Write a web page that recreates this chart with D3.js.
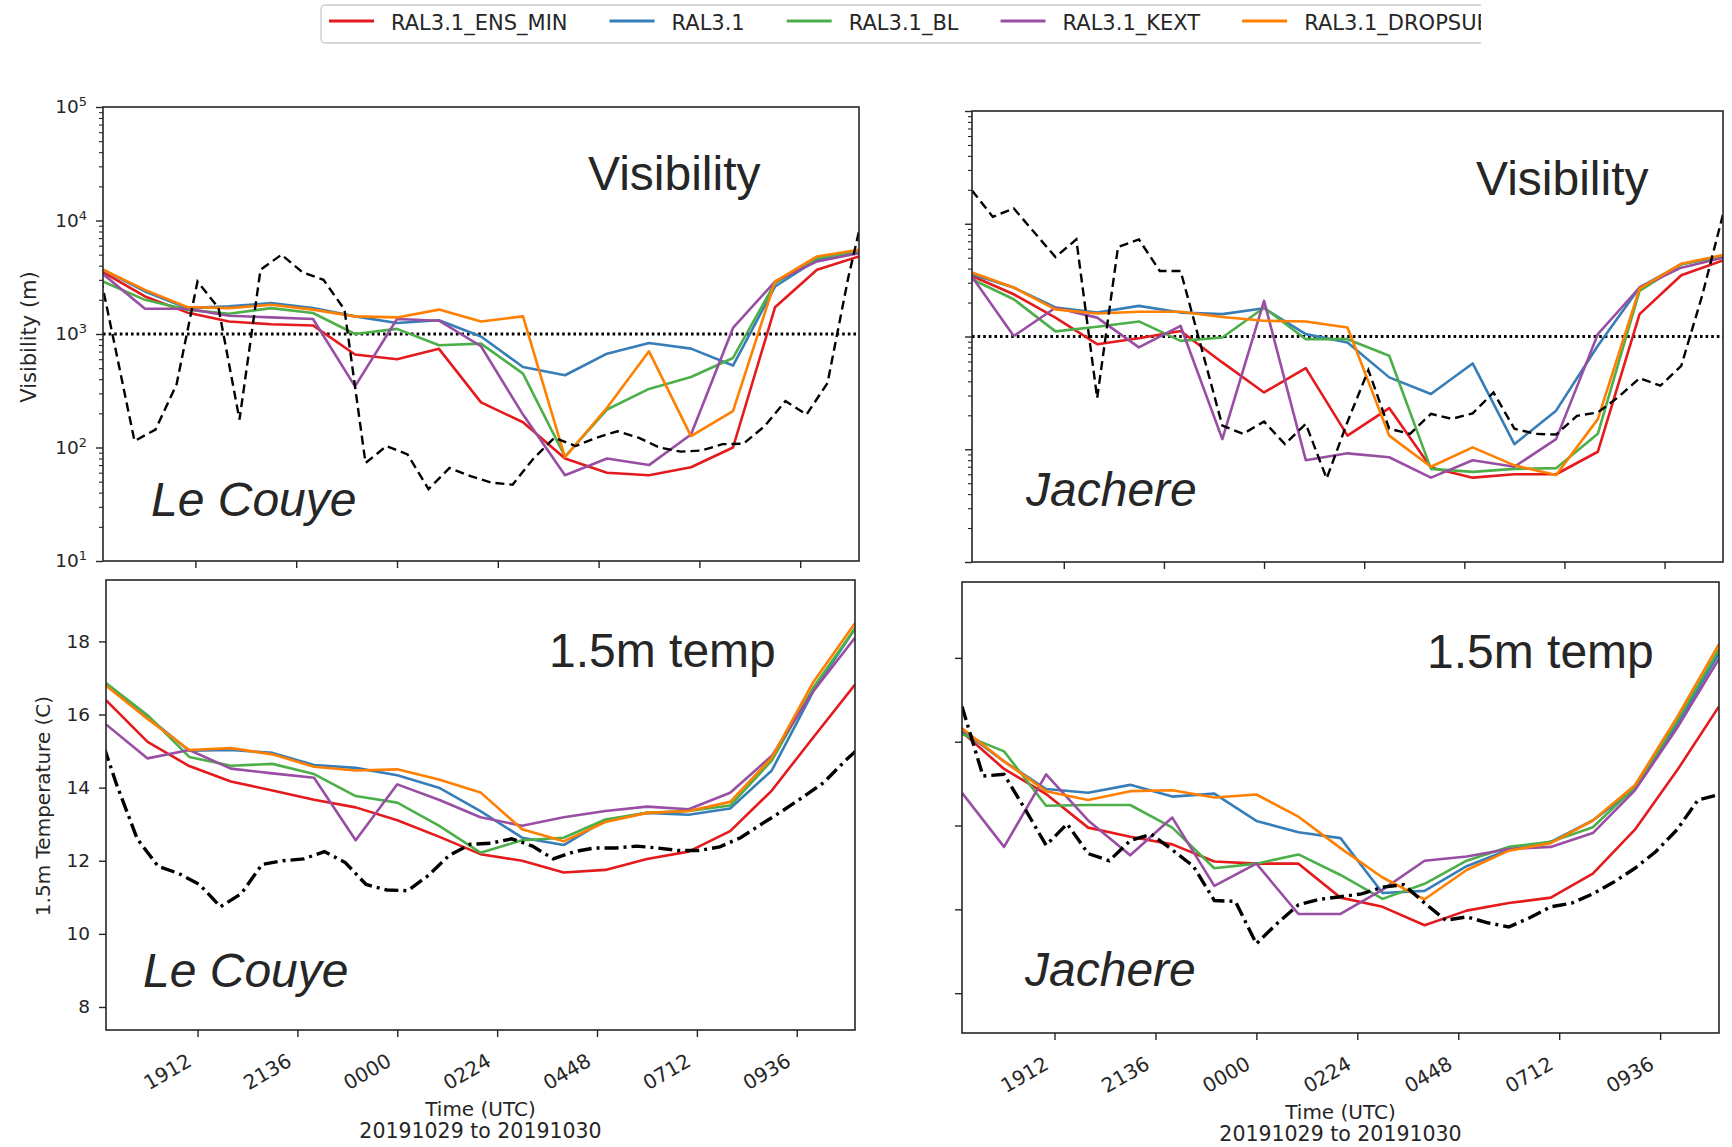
<!DOCTYPE html>
<html>
<head>
<meta charset="utf-8">
<script src="https://cdn.jsdelivr.net/npm/d3@7"></script>
<style>
  body { margin: 0; background: #fff; }
  svg { display: block; }
</style>
</head>
<body>
<svg id="chart" width="1732" height="1147"></svg>
<script>
// ---------- series and categories ----------
const seriesNames  = ["RAL3.1_ENS_MIN", "RAL3.1", "RAL3.1_BL", "RAL3.1_KEXT", "RAL3.1_DROPSUB"];
const seriesColors = ["#e41a1c", "#377eb8", "#4daf4a", "#984ea3", "#ff7f00"];

// hourly model output times (UTC), 29 Oct 17:00 to 30 Oct 11:00
const modelTimes = ["1700","1800","1900","2000","2100","2200","2300","0000","0100","0200",
                    "0300","0400","0500","0600","0700","0800","0900","1000","1100"];

// half-hourly observation times
const obsTimesLeCouye = ["1645","1715","1745","1815","1845","1915","1945","2015","2045","2115",
                         "2145","2215","2245","2315","2345","0015","0045","0115","0145","0215",
                         "0245","0315","0345","0415","0445","0515","0545","0615","0645","0715",
                         "0745","0815","0845","0915","0945","1015","1045","1115"];
const obsTimesJachere = ["1700","1730","1800","1830","1900","1930","2000","2030","2100","2130",
                         "2200","2230","2300","2330","0000","0030","0100","0130","0200","0230",
                         "0300","0330","0400","0430","0500","0530","0600","0630","0700","0730",
                         "0800","0830","0900","0930","1000","1030","1100"];

const xTickLabels = ["1912","2136","0000","0224","0448","0712","0936"];
const visTicks = [10, 100, 1000, 10000, 100000];
const tempTicksLeCouye = [8, 10, 12, 14, 16, 18];
const tempTicksJachere = [10, 12, 14, 16, 18];
const fogThreshold = 1000;

// ---------- visibility (m), Le Couye ----------
const visLeCouyeEnsMin = [3500,2140,1550,1290,1220,1190,660,600,740,250,167,80,60,57,67,100,1720,3680,4820];
const visLeCouyeRal    = [3680,2370,1690,1750,1870,1690,1430,1250,1320,950,512,433,671,833,743,527,2620,4510,5340];
const visLeCouyeBl     = [2900,2000,1640,1510,1690,1530,1000,1110,795,822,448,83,216,328,418,615,2810,4660,5340];
const visLeCouyeKext   = [3370,1670,1670,1450,1400,1355,346,1355,1310,780,195,57,80,70,130,1130,2900,4360,5160];
const visLeCouyeDrop   = [3680,2450,1730,1690,1810,1640,1430,1400,1640,1290,1430,82,224,704,126,209,2900,4820,5530];
const visLeCouyeObs    = [7000,900,114,144,358,2900,1700,176,3680,5000,3500,3000,1640,73,103,87,43,66,56,49,
                          47,80,122,103,122,139,122,100,92,94,107,108,154,257,195,370,3210,20000];

// ---------- visibility (m), Jachere ----------
const visJachereEnsMin = [3440,2370,1470,855,966,1120,589,319,524,132,232,69,56,60,60,95,1580,3490,4730];
const visJachereRal    = [3560,2720,1810,1630,1870,1630,1580,1780,1050,885,434,309,577,111,220,827,2720,4370,5180];
const visJachereBl     = [3220,2140,1110,1220,1360,915,980,1800,947,947,675,67,63,67,68,137,2540,4370,5180];
const visJachereKext   = [3380,1010,1800,1470,800,1240,123,2070,80,92,85,56,80,70,123,1050,2720,4080,5000];
const visJachereDrop   = [3690,2720,1740,1600,1660,1660,1490,1380,1360,1200,132,70,104,72,59,185,2660,4420,5280];
const visJachereObs    = [19700,11500,13700,8320,5070,7260,284,6220,7260,3810,3810,790,162,137,176,111,168,55,175,504,
                          152,137,206,186,208,319,152,137,135,198,212,292,428,366,550,2300,12100];

// ---------- 1.5 m temperature (C), Le Couye ----------
const tempLeCouyeEnsMin = [16.39,15.25,14.59,14.17,13.92,13.67,13.46,13.11,12.66,12.18,12.00,11.68,11.75,12.05,12.25,12.81,13.92,15.38,16.82];
const tempLeCouyeRal    = [16.82,15.93,15.01,15.03,14.95,14.62,14.54,14.34,14.00,13.36,12.63,12.43,13.11,13.31,13.26,13.43,14.47,16.64,18.35];
const tempLeCouyeBl     = [16.86,15.98,14.84,14.60,14.65,14.37,13.77,13.59,12.96,12.22,12.56,12.63,13.13,13.31,13.36,13.51,14.74,16.74,18.35];
const tempLeCouyeKext   = [15.73,14.80,15.03,14.52,14.39,14.27,12.56,14.09,13.67,13.19,12.96,13.19,13.36,13.48,13.41,13.86,14.87,16.64,18.10];
const tempLeCouyeDrop   = [16.79,15.88,15.03,15.08,14.91,14.57,14.47,14.50,14.22,13.87,12.86,12.53,13.06,13.31,13.36,13.61,14.82,16.89,18.50];
const tempLeCouyeObs    = [15.8,14.1,12.6,11.85,11.65,11.35,10.74,11.1,11.9,12.0,12.05,12.25,11.95,11.35,11.2,11.18,11.6,12.15,12.45,12.48,
                           12.6,12.4,12.05,12.25,12.35,12.35,12.4,12.35,12.28,12.28,12.38,12.63,13.0,13.36,13.74,14.14,14.72,15.24];

// ---------- 1.5 m temperature (C), Jachere ----------
const tempJachereEnsMin = [16.23,15.35,14.75,13.95,13.73,13.55,13.14,13.09,13.09,12.28,12.06,11.62,11.97,12.15,12.28,12.85,13.90,15.31,16.84];
const tempJachereRal    = [16.27,15.53,14.87,14.78,14.97,14.69,14.76,14.11,13.84,13.70,12.39,12.44,13.03,13.42,13.61,14.12,14.87,16.40,18.11];
const tempJachereBl     = [16.18,15.77,14.47,14.49,14.49,13.95,12.98,13.09,13.31,12.82,12.25,12.61,13.16,13.49,13.61,13.96,14.91,16.49,18.20];
const tempJachereKext   = [14.78,13.49,15.22,14.12,13.29,14.19,12.56,13.09,11.89,11.89,12.47,13.16,13.26,13.44,13.49,13.82,14.84,16.32,17.98];
const tempJachereDrop   = [16.32,15.53,14.82,14.61,14.82,14.84,14.67,14.74,14.21,13.46,12.76,12.24,12.94,13.40,13.58,14.12,14.96,16.58,18.33];
const tempJachereObs    = [16.84,15.18,15.22,14.39,13.53,14.04,13.33,13.16,13.64,13.79,13.42,13.03,12.21,12.19,11.18,11.67,12.11,12.24,12.30,12.37,
                           12.53,12.59,12.15,11.74,11.82,11.68,11.58,11.80,12.06,12.15,12.37,12.65,12.98,13.38,13.90,14.61,14.74];

// ---------- helpers ----------
const INK = "#262626";
const parseT = s => {
  const h = +s.slice(0, 2), m = +s.slice(2);
  return new Date(Date.UTC(2019, 9, h >= 12 ? 29 : 30, h, m));
};
const modelDates = modelTimes.map(parseT);
const xTickDates = xTickLabels.map(parseT);
const timeDomain = [modelDates[0], modelDates[modelDates.length - 1]];

const svg = d3.select("#chart");
const defs = svg.append("defs");

function drawPanel(p) {
  const x = d3.scaleUtc().domain(timeDomain).range([p.l, p.r]);
  const y = p.log
    ? d3.scaleLog().domain([10, 100000]).range([p.b, p.t])
    : d3.scaleLinear().domain(p.yDomain).range([p.b, p.t]);

  const clipId = "clip-" + p.id;
  defs.append("clipPath").attr("id", clipId)
    .append("rect").attr("x", p.l).attr("y", p.t).attr("width", p.r - p.l).attr("height", p.b - p.t);

  const g = svg.append("g");
  const plot = g.append("g").attr("clip-path", `url(#${clipId})`);

  // fog threshold
  if (p.log) {
    plot.append("line")
      .attr("x1", p.l).attr("x2", p.r)
      .attr("y1", y(fogThreshold)).attr("y2", y(fogThreshold))
      .attr("stroke", "#000").attr("stroke-width", 3)
      .attr("stroke-dasharray", "2.6,3");
  }

  // model runs
  const line = d3.line().x(d => x(d.t)).y(d => y(d.v));
  p.models.forEach((vals, i) => {
    plot.append("path")
      .datum(vals.map((v, k) => ({ t: modelDates[k], v })))
      .attr("d", line)
      .attr("fill", "none")
      .attr("stroke", seriesColors[i])
      .attr("stroke-width", 2.6)
      .attr("stroke-linejoin", "round");
  });

  // observations
  plot.append("path")
    .datum(p.obsValues.map((v, k) => ({ t: parseT(p.obsTimes[k]), v })))
    .attr("d", line)
    .attr("fill", "none")
    .attr("stroke", "#000")
    .attr("stroke-width", p.log ? 2.4 : 3.4)
    .attr("stroke-dasharray", p.log ? "9,5" : "14,5,3,5");

  // y axis
  const yAxis = d3.axisLeft(y).tickValues(p.yTicks).tickSize(7).tickPadding(9).tickSizeOuter(0);
  if (!p.yLabels) yAxis.tickFormat("");
  else if (p.log) yAxis.tickFormat(() => "");
  const ya = g.append("g").attr("transform", `translate(${p.l},0)`).call(yAxis);
  ya.select(".domain").remove();
  ya.selectAll("line").attr("stroke", INK).attr("stroke-width", 1.4);
  ya.selectAll("text").attr("fill", INK).style("font-family", "DejaVu Sans").style("font-size", "18.5px");

  if (p.log && p.yLabels) {
    ya.selectAll(".tick text").each(function (d) {
      const t = d3.select(this);
      t.append("tspan").text("10");
      t.append("tspan").attr("dy", "-0.55em").style("font-size", "13px").text(Math.round(Math.log10(d)));
    });
  }

  if (p.log) {
    const minors = [];
    [10, 100, 1000, 10000].forEach(dec => { for (let m = 2; m <= 9; m++) minors.push(dec * m); });
    const ym = g.append("g").attr("transform", `translate(${p.l},0)`)
      .call(d3.axisLeft(y).tickValues(minors).tickSize(4).tickFormat("").tickSizeOuter(0));
    ym.select(".domain").remove();
    ym.selectAll("line").attr("stroke", INK).attr("stroke-width", 1.1);
  }

  // x axis
  const xAxis = d3.axisBottom(x).tickValues(xTickDates).tickSize(7).tickSizeOuter(0)
    .tickFormat(p.xLabels ? d3.utcFormat("%H%M") : "");
  const xa = g.append("g").attr("transform", `translate(0,${p.b})`).call(xAxis);
  xa.select(".domain").remove();
  xa.selectAll("line").attr("stroke", INK).attr("stroke-width", 1.4);
  if (p.xLabels) {
    xa.selectAll("text")
      .attr("x", 0).attr("y", 0).attr("dy", 0)
      .attr("transform", "translate(-5,35) rotate(-30)")
      .style("text-anchor", "end")
      .attr("fill", INK)
      .style("font-family", "DejaVu Sans").style("font-size", "20px");

    g.append("text").attr("x", (p.l + p.r) / 2).attr("y", p.b + 86)
      .attr("text-anchor", "middle").attr("fill", INK)
      .style("font-family", "DejaVu Sans").style("font-size", "20px")
      .text("Time (UTC)");
    g.append("text").attr("x", (p.l + p.r) / 2).attr("y", p.b + 108)
      .attr("text-anchor", "middle").attr("fill", INK)
      .style("font-family", "DejaVu Sans").style("font-size", "20.5px")
      .text("20191029 to 20191030");
  }

  // frame
  g.append("rect").attr("x", p.l).attr("y", p.t).attr("width", p.r - p.l).attr("height", p.b - p.t)
    .attr("fill", "none").attr("stroke", INK).attr("stroke-width", 1.6);

  // y label
  if (p.yTitle) {
    g.append("text")
      .attr("transform", `translate(${p.yTitle.x},${p.yTitle.y}) rotate(-90)`)
      .attr("text-anchor", "middle").attr("dominant-baseline", "central")
      .attr("fill", INK)
      .style("font-family", "DejaVu Sans").style("font-size", p.yTitle.size + "px")
      .text(p.yTitle.text);
  }

  // panel annotations
  g.append("text").attr("x", p.l + p.varPos[0]).attr("y", p.t + p.varPos[1])
    .attr("fill", INK).style("font-family", "Liberation Sans, Arial").style("font-size", "48px")
    .text(p.varName);
  g.append("text").attr("x", p.l + p.sitePos[0]).attr("y", p.t + p.sitePos[1])
    .attr("fill", INK).style("font-family", "Liberation Sans, Arial").style("font-size", "48px")
    .style("font-style", "italic")
    .text(p.site);
}

// ---------- panels ----------
drawPanel({
  id: "vis-lc", l: 103, r: 859, t: 107, b: 561, log: true,
  yTicks: visTicks, yLabels: true, xLabels: false,
  models: [visLeCouyeEnsMin, visLeCouyeRal, visLeCouyeBl, visLeCouyeKext, visLeCouyeDrop],
  obsTimes: obsTimesLeCouye, obsValues: visLeCouyeObs,
  yTitle: { text: "Visibility (m)", x: 29, y: 337, size: 21 },
  varName: "Visibility", varPos: [485, 83], site: "Le Couye", sitePos: [48, 409]
});
drawPanel({
  id: "vis-ja", l: 972, r: 1723, t: 111, b: 562, log: true,
  yTicks: visTicks, yLabels: false, xLabels: false,
  models: [visJachereEnsMin, visJachereRal, visJachereBl, visJachereKext, visJachereDrop],
  obsTimes: obsTimesJachere, obsValues: visJachereObs,
  varName: "Visibility", varPos: [504, 84], site: "Jachere", sitePos: [54, 395]
});
drawPanel({
  id: "t-lc", l: 106, r: 855, t: 580, b: 1030, log: false,
  yDomain: [7.37, 19.68], yTicks: tempTicksLeCouye, yLabels: true, xLabels: true,
  models: [tempLeCouyeEnsMin, tempLeCouyeRal, tempLeCouyeBl, tempLeCouyeKext, tempLeCouyeDrop],
  obsTimes: obsTimesLeCouye, obsValues: tempLeCouyeObs,
  yTitle: { text: "1.5m Temperature (C)", x: 43, y: 806, size: 20 },
  varName: "1.5m temp", varPos: [443, 87], site: "Le Couye", sitePos: [37, 407]
});
drawPanel({
  id: "t-ja", l: 962, r: 1719, t: 582, b: 1033, log: false,
  yDomain: [9.05, 19.81], yTicks: tempTicksJachere, yLabels: false, xLabels: true,
  models: [tempJachereEnsMin, tempJachereRal, tempJachereBl, tempJachereKext, tempJachereDrop],
  obsTimes: obsTimesJachere, obsValues: tempJachereObs,
  varName: "1.5m temp", varPos: [465, 86], site: "Jachere", sitePos: [63, 404]
});

// ---------- legend ----------
defs.append("clipPath").attr("id", "clip-legend")
  .append("rect").attr("x", 0).attr("y", 0).attr("width", 1481).attr("height", 60);
const legend = svg.append("g").attr("clip-path", "url(#clip-legend)");
legend.append("rect").attr("x", 321).attr("y", 5).attr("width", 1220).attr("height", 38)
  .attr("rx", 4).attr("fill", "#fff").attr("stroke", "#cccccc").attr("stroke-width", 1.4);
let cx = 329;
seriesNames.forEach((name, i) => {
  legend.append("line").attr("x1", cx).attr("x2", cx + 45).attr("y1", 21).attr("y2", 21)
    .attr("stroke", seriesColors[i]).attr("stroke-width", 3);
  const t = legend.append("text").attr("x", cx + 62).attr("y", 29.5)
    .attr("fill", INK).style("font-family", "DejaVu Sans").style("font-size", "21px")
    .text(name);
  cx += 62 + t.node().getComputedTextLength() + 42;
});
</script>
</body>
</html>
